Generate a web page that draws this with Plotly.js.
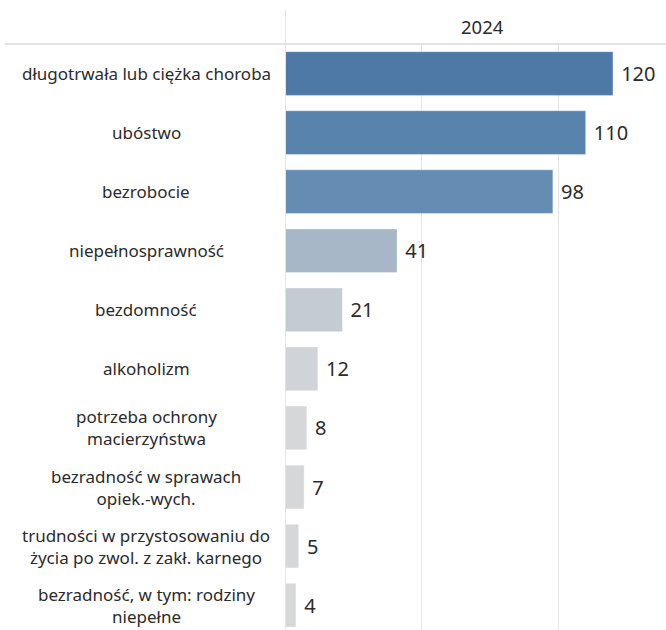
<!DOCTYPE html>
<html>
<head>
<meta charset="utf-8">
<script src="https://cdn.plot.ly/plotly-3.0.1.min.js"></script>
<style>html,body{margin:0;padding:0;background:#fff;}#chart{width:666px;height:630px;}</style>
</head>
<body>
<div id="chart"></div>
<script>
const seriesName = '2024';
const categories = [
  'długotrwała lub ciężka choroba',
  'ubóstwo',
  'bezrobocie',
  'niepełnosprawność',
  'bezdomność',
  'alkoholizm',
  'potrzeba ochrony<br>macierzyństwa',
  'bezradność w sprawach<br>opiek.-wych.',
  'trudności w przystosowaniu do<br>życia po zwol. z zakł. karnego',
  'bezradność, w tym: rodziny<br>niepełne'
];
const values = [120, 110, 98, 41, 21, 12, 8, 7, 5, 4];
const barColors = ['#4e79a7', '#5883ac', '#658cb3', '#a7b7c8', '#c5cbd3', '#d0d3d7', '#d6d7d9', '#d6d7d9', '#d6d7d9', '#d6d7d9'];
const gridValues = [0, 50, 100];

const FONT = 'Noto Sans, Open Sans, sans-serif';
const TXT = '#2b2b2b';
const GRID = '#e3e3e3';

const W = 666, H = 630, L = 285, T = 44, R = 0, B = 0;
const pw = W - L - R, ph = H - T - B;

const trace = {
  type: 'bar',
  orientation: 'h',
  y: categories,
  x: values,
  marker: {color: barColors, line: {width: 1, color: 'rgba(255,255,255,0.35)'}},
  texttemplate: '\u00a0%{x}',
  textposition: 'outside',
  constraintext: 'none',
  cliponaxis: false,
  textfont: {family: FONT, size: 20, color: TXT},
  hoverinfo: 'skip'
};

const annotations = categories.map(c => ({
  xref: 'paper', yref: 'y',
  x: (146 - L) / pw, y: c,
  xanchor: 'center', yanchor: 'middle', align: 'center',
  text: c, showarrow: false,
  font: {family: FONT, size: 17, color: TXT}
}));
annotations.push({
  xref: 'paper', yref: 'paper',
  x: (482 - L) / pw, y: 1 + (T - 27) / ph,
  xanchor: 'center', yanchor: 'middle',
  text: seriesName, showarrow: false,
  font: {family: FONT, size: 18.5, color: TXT}
});

const layout = {
  width: W, height: H,
  margin: {l: L, r: R, t: T, b: B, pad: 0},
  paper_bgcolor: '#fff', plot_bgcolor: '#fff',
  showlegend: false,
  bargap: 0.26,
  xaxis: {
    range: [0, 139.4], tickvals: gridValues, showticklabels: false,
    showgrid: true, gridcolor: GRID, gridwidth: 1.5, zeroline: false,
    showline: false, fixedrange: true
  },
  yaxis: {
    type: 'category', categoryorder: 'array', categoryarray: categories,
    range: [9.42, -0.5], showticklabels: false, showgrid: false,
    zeroline: false, showline: false, ticks: '', fixedrange: true
  },
  shapes: [
    {type: 'line', xref: 'paper', yref: 'paper', x0: (5 - L) / pw, x1: 1, y0: 1, y1: 1,
     line: {color: GRID, width: 2}},
    {type: 'line', xref: 'x', yref: 'paper', x0: 0, x1: 0, y0: 0, y1: 1 + (T - 10) / ph,
     line: {color: GRID, width: 2}}
  ],
  annotations: annotations
};

Plotly.newPlot('chart', [trace], layout, {displayModeBar: false, staticPlot: true});
</script>
</body>
</html>
